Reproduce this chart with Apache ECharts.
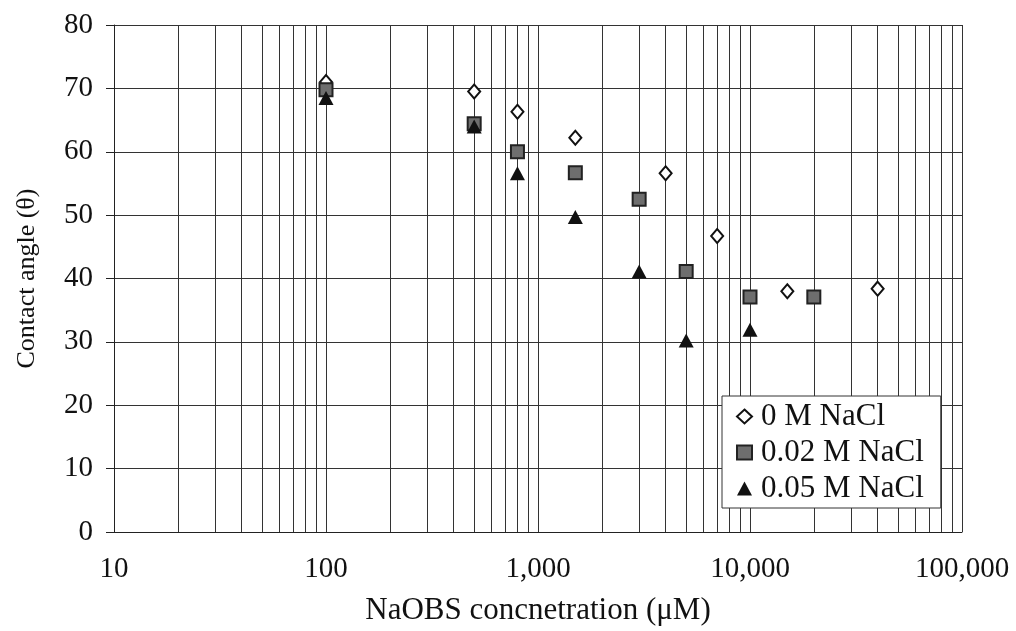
<!DOCTYPE html>
<html><head><meta charset="utf-8">
<script src="https://cdn.jsdelivr.net/npm/echarts@6/dist/echarts.min.js"></script>
<style>html,body{margin:0;padding:0;background:#fff}#c{width:1016px;height:631px}</style>
</head><body><div id="c"></div>
<script>
const seriesNames = ['0 M NaCl', '0.02 M NaCl', '0.05 M NaCl'];
const conc0 = [100, 500, 800, 1500, 4000, 7000, 15000, 40000];
const angle0 = [71, 69.5, 66.3, 62.2, 56.6, 46.7, 38.0, 38.4];
const conc002 = [100, 500, 800, 1500, 3000, 5000, 10000, 20000];
const angle002 = [69.8, 64.4, 60.0, 56.7, 52.5, 41.1, 37.1, 37.1];
const conc005 = [100, 500, 800, 1500, 3000, 5000, 10000];
const angle005 = [68.5, 64.0, 56.6, 49.7, 41.1, 30.2, 31.9];
const yTicks = [0, 10, 20, 30, 40, 50, 60, 70, 80];
const decades = [10, 100, 1000, 10000];

const minorX = [];
decades.forEach(d => { for (let k = 2; k <= 9; k++) minorX.push(d * k); });

const font = 'Liberation Serif';
const pairs = (xs, ys) => xs.map((x, i) => [x, ys[i]]);

const chart = echarts.init(document.getElementById('c'), null, {renderer: 'canvas'});
chart.setOption({
  animation: false,
  backgroundColor: '#fff',
  grid: {left: 114, right: 54, top: 25, bottom: 98, containLabel: false},
  xAxis: {
    type: 'log', logBase: 10, min: 10, max: 100000,
    name: 'NaOBS concnetration (\u03bcM)', nameLocation: 'middle', nameGap: 63,
    nameTextStyle: {fontFamily: font, fontSize: 31, color: '#111'},
    axisLine: {show: true, lineStyle: {color: '#222', width: 1}},
    axisTick: {show: false},
    axisLabel: {fontFamily: font, fontSize: 29, color: '#111', margin: 23,
      formatter: v => Number(v).toLocaleString('en-US')},
    splitLine: {show: true, lineStyle: {color: '#333', width: 1}}
  },
  yAxis: {
    type: 'value', min: 0, max: 80, interval: 10,
    name: 'Contact angle (\u03b8)', nameLocation: 'middle', nameGap: 74, nameRotate: 90,
    nameTextStyle: {fontFamily: font, fontSize: 26, color: '#111'},
    axisLine: {show: true, lineStyle: {color: '#222', width: 1}},
    axisTick: {show: true, inside: false, length: 8, lineStyle: {color: '#222'}},
    axisLabel: {fontFamily: font, fontSize: 29, color: '#111', margin: 21},
    splitLine: {show: true, lineStyle: {color: '#333', width: 1}}
  },
  legend: {
    orient: 'vertical', left: 722, top: 396, z: 20,
    padding: [5, 17, 4, 14], itemGap: 5, itemWidth: 15, itemHeight: 14,
    borderColor: '#333', borderWidth: 1, backgroundColor: '#fff',
    textStyle: {fontFamily: font, fontSize: 31, color: '#111', padding: [0, 0, 0, 4]},
    data: seriesNames
  },
  series: [
    {
      name: 'grid', type: 'scatter', data: [], silent: true, z: 1,
      markLine: {silent: true, symbol: 'none', label: {show: false}, z: 1,
        lineStyle: {color: '#333', width: 1, type: 'solid'},
        data: minorX.map(v => ({xAxis: v}))}
    },
    {
      name: seriesNames[0], type: 'scatter', symbol: 'diamond', symbolSize: [12, 14],
      itemStyle: {color: '#fff', borderColor: '#111', borderWidth: 2, opacity: 1},
      data: pairs(conc0, angle0), z: 3
    },
    {
      name: seriesNames[1], type: 'scatter', symbol: 'rect', symbolSize: 13,
      itemStyle: {color: '#6e6e6e', borderColor: '#222', borderWidth: 2, opacity: 1},
      data: pairs(conc002, angle002), z: 4
    },
    {
      name: seriesNames[2], type: 'scatter', symbol: 'triangle', symbolSize: [15, 14],
      itemStyle: {color: '#111', opacity: 1},
      data: pairs(conc005, angle005), z: 5
    }
  ]
});
</script></body></html>
